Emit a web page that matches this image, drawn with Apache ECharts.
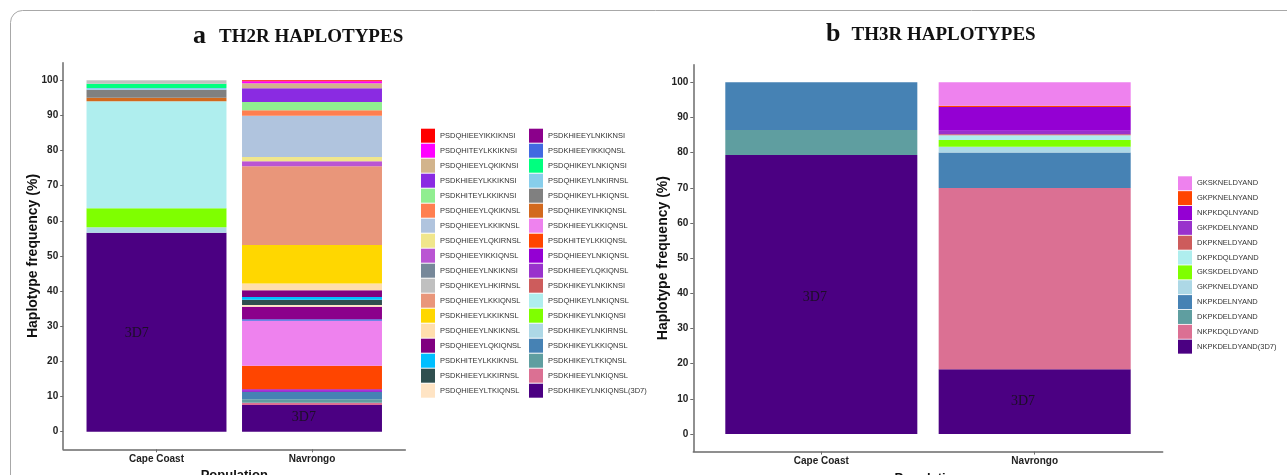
<!DOCTYPE html>
<html>
<head>
<meta charset="utf-8">
<script src="https://cdn.jsdelivr.net/npm/echarts@6/dist/echarts.min.js"></script>
<style>
html, body { margin: 0; background: #fff; }
#main { width: 1287px; height: 475px; }
</style>
</head>
<body>
<div id="main"></div>
<script>
var populations = ['Cape Coast', 'Navrongo'];
var yTicks = [0, 10, 20, 30, 40, 50, 60, 70, 80, 90, 100];

// TH2R haplotypes, in legend order (first = top of the stack)
var th2rNames = [
  'PSDQHIEEYIKKIKNSI', 'PSDQHITEYLKKIKNSI', 'PSDQHIEEYLQKIKNSI', 'PSDKHIEEYLKKIKNSI',
  'PSDKHITEYLKKIKNSI', 'PSDQHIEEYLQKIKNSL', 'PSDQHIEEYLKKIKNSL', 'PSDQHIEEYLQKIRNSL',
  'PSDQHIEEYIKKIQNSL', 'PSDQHIEEYLNKIKNSI', 'PSDQHIKEYLHKIRNSL', 'PSDQHIEEYLKKIQNSL',
  'PSDKHIEEYLKKIKNSL', 'PSDQHIEEYLNKIKNSL', 'PSDQHIEEYLQKIQNSL', 'PSDKHITEYLKKIKNSL',
  'PSDKHIEEYLKKIRNSL', 'PSDQHIEEYLTKIQNSL',
  'PSDKHIEEYLNKIKNSI', 'PSDKHIEEYIKKIQNSL', 'PSDQHIKEYLNKIQNSI', 'PSDQHIKEYLNKIRNSL',
  'PSDQHIKEYLHKIQNSL', 'PSDQHIKEYINKIQNSL', 'PSDKHIEEYLKKIQNSL', 'PSDKHITEYLKKIQNSL',
  'PSDQHIEEYLNKIQNSL', 'PSDKHIEEYLQKIQNSL', 'PSDKHIKEYLNKIKNSI', 'PSDQHIKEYLNKIQNSL',
  'PSDKHIKEYLNKIQNSI', 'PSDKHIKEYLNKIRNSL', 'PSDKHIKEYLKKIQNSL', 'PSDKHIKEYLTKIQNSL',
  'PSDKHIEEYLNKIQNSL', 'PSDKHIKEYLNKIQNSL(3D7)'
];
var th2rColors = [
  '#FF0000', '#FF00FF', '#D2B48C', '#8A2BE2', '#90EE90', '#FF7F50', '#B0C4DE', '#F0E68C',
  '#BA55D3', '#778899', '#C0C0C0', '#E9967A', '#FFD700', '#FFDEAD', '#800080', '#00BFFF',
  '#2F4F4F', '#FFE4C4',
  '#8B008B', '#4169E1', '#00FF7F', '#87CEEB', '#808080', '#D2691E', '#EE82EE', '#FF4500',
  '#9400D3', '#9932CC', '#CD5C5C', '#AFEEEE', '#7FFF00', '#ADD8E6', '#4682B4', '#5F9EA0',
  '#DB7093', '#4B0082'
];
var th2rCapeCoast = [
  0, 0, 0, 0, 0, 0, 0, 0, 0, 0, 0.97, 0, 0, 0, 0, 0, 0, 0,
  0, 0, 1.23, 0.5, 2.25, 1.05, 0, 0, 0, 0, 0, 30.4, 5.4, 1.6, 0, 0, 0, 56.6
];
var th2rNavrongo = [
  0.30, 0.57, 1.42, 3.89, 2.37, 1.52, 11.76, 1.23, 1.41, 0, 0, 22.40, 10.96, 1.90, 1.94, 0.77, 1.50, 0.49,
  3.56, 0.45, 0, 0, 0, 0, 12.78, 6.71, 0.40, 0.37, 0, 0, 0, 0, 2.08, 0.97, 0.65, 7.60
];

// TH3R haplotypes, in legend order
var th3rNames = [
  'GKSKNELDYAND', 'GKPKNELNYAND', 'NKPKDQLNYAND', 'GKPKDELNYAND', 'DKPKNELDYAND', 'DKPKDQLDYAND',
  'GKSKDELDYAND', 'GKPKNELDYAND', 'NKPKDELNYAND', 'DKPKDELDYAND', 'NKPKDQLDYAND', 'NKPKDELDYAND(3D7)'
];
var th3rColors = [
  '#EE82EE', '#FF4500', '#9400D3', '#9932CC', '#CD5C5C', '#AFEEEE',
  '#7FFF00', '#ADD8E6', '#4682B4', '#5F9EA0', '#DB7093', '#4B0082'
];
var th3rCapeCoast = [0, 0, 0, 0, 0, 0, 0, 0, 13.6, 7.1, 0, 79.3];
var th3rNavrongo = [6.65, 0.38, 6.73, 1.0, 0.3, 1.34, 1.90, 1.69, 10.05, 0, 51.56, 18.4];

var axisGrey = '#6b6b6b';
var tickText = { color: '#222', fontWeight: 'bold', fontSize: 10, fontFamily: 'Liberation Sans' };
var nameText = { color: '#111', fontWeight: 'bold', fontFamily: 'Liberation Sans' };

// ggplot pads a discrete axis by 0.6 of a band on each side: the panel is
// 2.2 bands wide, the bars sit on an inner grid 2 bands wide
function panelGrids(left, top, width, height) {
  var band = width / 2.2;
  return [
    { left: left, top: top, width: width, height: height, outerBoundsMode: 'none' },
    { left: left + 0.1 * band, top: top, width: 2 * band, height: height, outerBoundsMode: 'none' }
  ];
}

function stackSeries(names, colors, cc, nav, axisIdx) {
  var out = [];
  // ggplot stacks the last level at the bottom
  for (var i = names.length - 1; i >= 0; i--) {
    out.push({
      name: names[i],
      type: 'bar',
      stack: 'panel' + axisIdx,
      xAxisIndex: axisIdx,
      yAxisIndex: axisIdx,
      barWidth: '90%',
      itemStyle: { color: colors[i] },
      data: [cc[i], nav[i]]
    });
  }
  return out;
}

function labelSeries(axisIdx, points) {
  return {
    type: 'scatter',
    xAxisIndex: axisIdx,
    yAxisIndex: axisIdx,
    symbolSize: 0,
    silent: true,
    z: 10,
    label: {
      show: true,
      position: 'inside',
      formatter: '3D7',
      color: '#111',
      fontFamily: 'Liberation Serif',
      fontSize: 14
    },
    data: points
  };
}

function outerX(gridIdx) {
  return {
    type: 'value', gridIndex: gridIdx, min: 0.4, max: 2.6,
    splitLine: { show: false },
    axisLabel: { show: false },
    axisTick: { show: false },
    axisLine: { show: true, onZero: false, lineStyle: { color: axisGrey, width: 1.5 } }
  };
}

function innerX(gridIdx) {
  return {
    type: 'category', gridIndex: gridIdx, data: populations,
    name: 'Population',
    nameLocation: 'middle',
    nameGap: 20,
    nameTextStyle: Object.assign({ fontSize: 13 }, nameText),
    axisLine: { show: false, onZero: false },
    axisTick: { show: true, alignWithLabel: true, length: 3, lineStyle: { color: axisGrey } },
    axisLabel: Object.assign({ margin: 5 }, tickText)
  };
}

function outerY(gridIdx, nameGap) {
  return {
    type: 'value', gridIndex: gridIdx, min: -5, max: 105,
    name: 'Haplotype frequency (%)',
    nameLocation: 'middle',
    nameGap: nameGap,
    nameMoveOverlap: false,
    nameTextStyle: Object.assign({ fontSize: 14 }, nameText),
    splitLine: { show: false },
    axisLine: { show: true, onZero: false, lineStyle: { color: axisGrey, width: 1.5 } },
    axisTick: { show: true, length: 3, customValues: yTicks, lineStyle: { color: axisGrey } },
    axisLabel: Object.assign({ customValues: yTicks, margin: 5 }, tickText)
  };
}

function innerY(gridIdx) {
  return { type: 'value', gridIndex: gridIdx, min: -5, max: 105, show: false, splitLine: { show: false } };
}

var legendBase = {
  orient: 'vertical',
  icon: 'rect',
  itemWidth: 14,
  itemHeight: 14,
  itemGap: 1,
  padding: 0,
  selectedMode: false,
  textStyle: { color: '#333', fontSize: 7.5, fontFamily: 'Liberation Sans' }
};

function titleRich(gap) {
  return { rich: {
    l: { fontFamily: 'Liberation Serif', fontWeight: 'bold', fontSize: 26, color: '#111', verticalAlign: 'bottom' },
    t: { fontFamily: 'Liberation Serif', fontWeight: 'bold', fontSize: 19, color: '#111', verticalAlign: 'bottom', padding: [0, 0, 2, gap] }
  } };
}

var option = {
  animation: false,
  backgroundColor: '#fff',
  title: [
    { left: 188, top: 18, text: '{l|a}{t|TH2R HAPLOTYPES}', textStyle: titleRich(13) },
    { left: 821, top: 16, text: '{l|b}{t|TH3R HAPLOTYPES}', textStyle: titleRich(11) }
  ],
  graphic: [{
    type: 'rect',
    shape: { x: 10.5, y: 10.5, width: 1300, height: 500, r: 12 },
    style: { fill: 'none', stroke: '#a8a8a8', lineWidth: 1 },
    silent: true
  }],
  legend: [
    Object.assign({ left: 421, top: 128.7, data: th2rNames.slice(0, 18) }, legendBase),
    Object.assign({ left: 529, top: 128.7, data: th2rNames.slice(18) }, legendBase),
    Object.assign({ left: 1178, top: 176.3, data: th3rNames }, legendBase, { itemGap: 0.85 })
  ],
  grid: panelGrids(63.2, 62.7, 342.1, 386.6).concat(panelGrids(693.3, 64.7, 469.4, 386.9)),
  xAxis: [outerX(0), innerX(1), outerX(2), innerX(3)],
  yAxis: [outerY(0, 23), innerY(1), outerY(2, 23), innerY(3)],
  series: []
    .concat(stackSeries(th2rNames, th2rColors, th2rCapeCoast, th2rNavrongo, 1))
    .concat(stackSeries(th3rNames, th3rColors, th3rCapeCoast, th3rNavrongo, 3))
    .concat([
      labelSeries(0, [[0.873, 28.1], [1.948, 4.2]]),
      labelSeries(2, [[0.97, 39], [1.945, 9.4]])
    ])
};

var myChart = echarts.init(document.getElementById('main'));
myChart.setOption(option);
</script>
</body>
</html>
